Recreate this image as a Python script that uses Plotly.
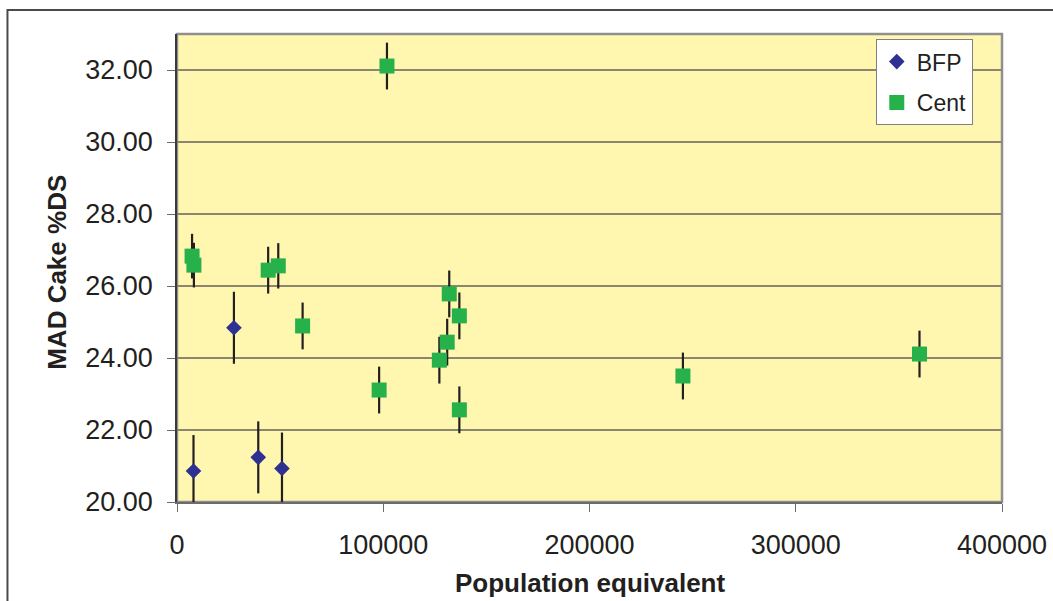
import plotly.graph_objects as go

# ---- data ----
bfp_x = [8000, 27600, 39400, 50900]
bfp_y = [20.86, 24.84, 21.24, 20.93]
bfp_err = [1.0, 1.0, 1.0, 1.0]

cent_x = [7300, 8200, 44200, 49100, 60900, 98000, 101800, 127200, 131000,
          132000, 136900, 136900, 245300, 360000]
cent_y = [26.83, 26.58, 26.44, 26.56, 24.89, 23.11, 32.11, 23.94, 24.44,
          25.78, 25.17, 22.56, 23.50, 24.11]
cent_err = [0.62, 0.62, 0.65, 0.63, 0.65, 0.65, 0.65, 0.65, 0.65,
            0.65, 0.65, 0.65, 0.65, 0.65]

y_ticks = [20, 22, 24, 26, 28, 30, 32]
x_ticks = [0, 100000, 200000, 300000, 400000]

FONT = "Liberation Sans, Arial, sans-serif"

fig = go.Figure()
fig.add_trace(go.Scatter(
    x=bfp_x, y=bfp_y, mode="markers", name="BFP", legendgroup="a",
    marker=dict(symbol="diamond", size=12, color="#2E3192", line=dict(width=0)),
    error_y=dict(type="data", array=bfp_err, visible=True, color="#231F20",
                 thickness=2.2, width=0),
))
fig.add_trace(go.Scatter(
    x=cent_x, y=cent_y, mode="markers", name="Cent", legendgroup="b",
    marker=dict(symbol="square", size=15, color="#27B14A", line=dict(width=0)),
    error_y=dict(type="data", array=cent_err, visible=True, color="#231F20",
                 thickness=2.2, width=0),
))

fig.update_layout(
    width=1053, height=601,
    margin=dict(l=177, r=51, t=34, b=99),
    paper_bgcolor="white",
    plot_bgcolor="#FFF7B0",
    font=dict(family=FONT, color="#231F20"),
    showlegend=True,
    legend=dict(
        x=0.847, y=0.989, xanchor="left", yanchor="top",
        bgcolor="white", bordercolor="#808080", borderwidth=1,
        font=dict(size=23, family=FONT, color="#231F20"),
        tracegroupgap=8,
    ),
    xaxis=dict(
        range=[0, 400000], tickvals=x_ticks, tickformat="d",
        showgrid=False, zeroline=False, automargin=False,
        showline=True, linecolor="#6b6b6b", linewidth=1.5,
        ticks="outside", ticklen=8, tickcolor="#6b6b6b", tickwidth=1.2,
        tickfont=dict(size=27, family=FONT, color="#231F20"),
        ticklabelstandoff=10,
    ),
    yaxis=dict(
        range=[20, 33], tickvals=y_ticks, tickformat=".2f",
        showgrid=True, gridcolor="#8A8670", gridwidth=2,
        zeroline=False, automargin=False,
        showline=True, linecolor="#3a3a3a", linewidth=1.5,
        ticks="outside", ticklen=8, tickcolor="#6b6b6b", tickwidth=1.2,
        tickfont=dict(size=27, family=FONT, color="#231F20"),
        ticklabelstandoff=9,
    ),
    shapes=[
        # plot area border
        dict(type="rect", xref="paper", yref="paper", x0=0, x1=1, y0=0, y1=1,
             line=dict(color="#8f8f8f", width=2.5), layer="below"),
        # outer chart frame (left and top edges visible)
        dict(type="rect", xref="paper", yref="paper",
             x0=-0.2055, x1=1.1, y0=-0.25, y1=1.0513,
             line=dict(color="#4a4a4a", width=2), layer="below"),
    ],
    annotations=[
        dict(text="<b>MAD Cake %DS</b>", xref="paper", yref="paper",
             x=-0.1453, y=0.49, xanchor="center", yanchor="middle",
             textangle=-90, showarrow=False,
             font=dict(size=26, family=FONT, color="#231F20")),
        dict(text="<b>Population equivalent</b>", xref="paper", yref="paper",
             x=0.5, y=-0.173, xanchor="center", yanchor="middle",
             showarrow=False,
             font=dict(size=26, family=FONT, color="#231F20")),
    ],
)

fig.write_html(
    "out.html",
    config={"displayModeBar": False},
    post_script="document.body.style.margin='0';"
                "document.body.style.overflow='hidden';",
)
